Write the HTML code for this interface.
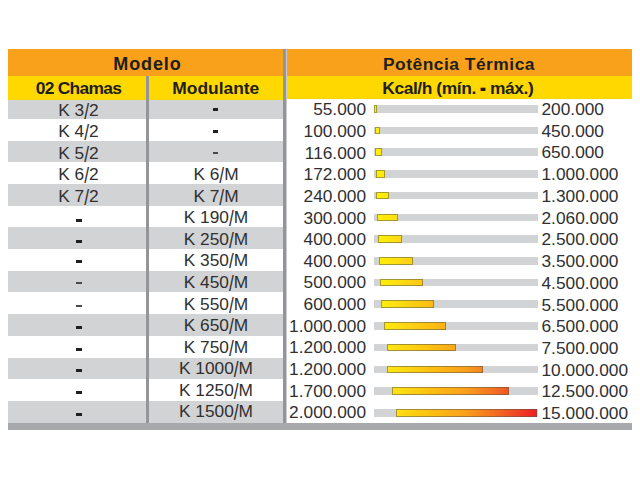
<!DOCTYPE html>
<html><head><meta charset="utf-8"><style>
*{margin:0;padding:0;box-sizing:border-box}
html,body{width:640px;height:480px;background:#fff;overflow:hidden}
body{position:relative;font-family:"Liberation Sans",sans-serif;color:#303030}
.a{position:absolute}
.t{position:absolute;white-space:nowrap;line-height:20px;font-size:17.3px}
.c1{left:9.5px;width:138px;text-align:center}
.c2{left:149px;width:134px;text-align:center}
.mn{left:280px;width:86px;text-align:right}
.mx{left:541.5px;text-align:left}
.g{background:#d1d3d4}
.tr{position:absolute;left:374.00px;width:163.70px;height:7.6px;background:#d1d3d4}
.bar{position:absolute;height:7.6px;border:1px solid rgba(90,88,75,.55);background-image:linear-gradient(to right,#fff200 0%,#ffe014 13%,#fdc010 34%,#f9a01b 56%,#f26522 77%,#ec1c24 100%);background-size:163.70px 100%;background-origin:border-box}
.dash{position:absolute;background:#231f20}
.sl{display:inline-block;transform:translateY(0.7px) scaleY(1.3)}
</style></head><body>

<div class="a" style="left:8px;top:49px;width:624px;height:27px;background:#f9a11b"></div>
<div class="a" style="left:8px;top:76px;width:278px;height:24px;background:#ffd800"></div>
<div class="a" style="left:286px;top:76px;width:346px;height:23px;background:#ffd800"></div>
<div class="a g" style="left:8px;top:100px;width:275px;height:19px"></div>
<div class="a g" style="left:8px;top:141px;width:275px;height:21px"></div>
<div class="a g" style="left:8px;top:184px;width:275px;height:22px"></div>
<div class="a g" style="left:8px;top:227px;width:275px;height:22px"></div>
<div class="a g" style="left:8px;top:271px;width:275px;height:21px"></div>
<div class="a g" style="left:8px;top:314px;width:275px;height:22px"></div>
<div class="a g" style="left:8px;top:358px;width:275px;height:21px"></div>
<div class="a g" style="left:8px;top:401px;width:275px;height:22px"></div>
<div class="a" style="left:8px;top:423px;width:624px;height:7px;background:#a7a9ac"></div>
<div class="a" style="left:146px;top:76px;width:3px;height:347px;background:#939598"></div>
<div class="a" style="left:283px;top:49px;width:3px;height:374px;background:#939598"></div>
<div class="a" style="left:286px;top:49px;width:1px;height:374px;background:#c9cacc"></div>
<div class="t " style="top:53.76px;font-weight:bold;font-size:18.0px;color:#1e1e1e;left:-2.55px;width:300px;text-align:center;letter-spacing:0.9px">Modelo</div>
<div class="t " style="top:53.97px;font-weight:bold;font-size:17.4px;color:#1e1e1e;left:309.00px;width:300px;text-align:center;letter-spacing:0.5px">Potência Térmica</div>
<div class="t " style="top:77.67px;font-weight:bold;font-size:17.4px;color:#1e1e1e;left:9.45px;width:138px;text-align:center;letter-spacing:-0.7px">02 Chamas</div>
<div class="t " style="top:77.67px;font-weight:bold;font-size:17.4px;color:#1e1e1e;left:148.80px;width:134px;text-align:center;">Modulante</div>
<div class="t " style="top:77.67px;font-weight:bold;font-size:17.4px;color:#1e1e1e;left:307.80px;width:300px;text-align:center;letter-spacing:-0.42px">Kcal/h (mín. <span style="display:inline-block;transform:translateY(-0.2px) scale(1.1,1.6)">-</span> máx.)</div>
<div class="t c1" style="top:99.50px">K 3<span class="sl">/</span>2</div>
<div class="dash" style="left:213px;top:108px;width:5px;height:3px"></div>
<div class="t mn" style="top:99.25px">55.000</div>
<div class="t mx" style="top:99.05px">200.000</div>
<div class="tr" style="top:105.00px"></div>
<div class="bar" style="top:105.00px;left:374.00px;width:2.90px;background-position:-0.00px 0"></div>
<div class="t c1" style="top:121.07px">K 4<span class="sl">/</span>2</div>
<div class="dash" style="left:213px;top:130px;width:5px;height:3px"></div>
<div class="t mn" style="top:120.90px">100.000</div>
<div class="t mx" style="top:120.77px">450.000</div>
<div class="tr" style="top:126.71px"></div>
<div class="bar" style="top:126.71px;left:375.00px;width:4.60px;background-position:-1.00px 0"></div>
<div class="t c1" style="top:142.64px">K 5<span class="sl">/</span>2</div>
<div class="dash" style="left:213px;top:152px;width:5px;height:2px;background:#4a4a4a"></div>
<div class="t mn" style="top:142.55px">116.000</div>
<div class="t mx" style="top:142.49px">650.000</div>
<div class="tr" style="top:148.42px"></div>
<div class="bar" style="top:148.42px;left:375.00px;width:6.90px;background-position:-1.00px 0"></div>
<div class="t c1" style="top:164.21px">K 6<span class="sl">/</span>2</div>
<div class="t c2" style="top:164.21px">K 6<span class="sl">/</span>M</div>
<div class="t mn" style="top:164.20px">172.000</div>
<div class="t mx" style="top:164.21px">1.000.000</div>
<div class="tr" style="top:170.13px"></div>
<div class="bar" style="top:170.13px;left:376.00px;width:9.10px;background-position:-2.00px 0"></div>
<div class="t c1" style="top:185.78px">K 7<span class="sl">/</span>2</div>
<div class="t c2" style="top:185.78px">K 7<span class="sl">/</span>M</div>
<div class="t mn" style="top:185.85px">240.000</div>
<div class="t mx" style="top:185.93px">1.300.000</div>
<div class="tr" style="top:191.84px"></div>
<div class="bar" style="top:191.84px;left:376.10px;width:12.50px;background-position:-2.10px 0"></div>
<div class="dash" style="left:76px;top:219px;width:6px;height:3px"></div>
<div class="t c2" style="top:207.35px">K 190<span class="sl">/</span>M</div>
<div class="t mn" style="top:207.50px">300.000</div>
<div class="t mx" style="top:207.65px">2.060.000</div>
<div class="tr" style="top:213.55px"></div>
<div class="bar" style="top:213.55px;left:377.00px;width:21.25px;background-position:-3.00px 0"></div>
<div class="dash" style="left:76px;top:240px;width:6px;height:3px"></div>
<div class="t c2" style="top:228.92px">K 250<span class="sl">/</span>M</div>
<div class="t mn" style="top:229.15px">400.000</div>
<div class="t mx" style="top:229.37px">2.500.000</div>
<div class="tr" style="top:235.26px"></div>
<div class="bar" style="top:235.26px;left:378.30px;width:23.40px;background-position:-4.30px 0"></div>
<div class="dash" style="left:76px;top:260px;width:6px;height:3px"></div>
<div class="t c2" style="top:250.49px">K 350<span class="sl">/</span>M</div>
<div class="t mn" style="top:250.80px">400.000</div>
<div class="t mx" style="top:251.09px">3.500.000</div>
<div class="tr" style="top:256.97px"></div>
<div class="bar" style="top:256.97px;left:378.70px;width:34.10px;background-position:-4.70px 0"></div>
<div class="dash" style="left:76px;top:282px;width:6px;height:2px;background:#4a4a4a"></div>
<div class="t c2" style="top:272.06px">K 450<span class="sl">/</span>M</div>
<div class="t mn" style="top:272.45px">500.000</div>
<div class="t mx" style="top:272.81px">4.500.000</div>
<div class="tr" style="top:278.68px"></div>
<div class="bar" style="top:278.68px;left:379.80px;width:43.50px;background-position:-5.80px 0"></div>
<div class="dash" style="left:76px;top:305px;width:6px;height:2px;background:#4a4a4a"></div>
<div class="t c2" style="top:293.63px">K 550<span class="sl">/</span>M</div>
<div class="t mn" style="top:294.10px">600.000</div>
<div class="t mx" style="top:294.53px">5.500.000</div>
<div class="tr" style="top:300.39px"></div>
<div class="bar" style="top:300.39px;left:381.20px;width:52.80px;background-position:-7.20px 0"></div>
<div class="dash" style="left:76px;top:326px;width:6px;height:3px"></div>
<div class="t c2" style="top:315.20px">K 650<span class="sl">/</span>M</div>
<div class="t mn" style="top:315.75px">1.000.000</div>
<div class="t mx" style="top:316.25px">6.500.000</div>
<div class="tr" style="top:322.10px"></div>
<div class="bar" style="top:322.10px;left:384.30px;width:61.50px;background-position:-10.30px 0"></div>
<div class="dash" style="left:76px;top:348px;width:6px;height:3px"></div>
<div class="t c2" style="top:336.77px">K 750<span class="sl">/</span>M</div>
<div class="t mn" style="top:337.40px">1.200.000</div>
<div class="t mx" style="top:337.97px">7.500.000</div>
<div class="tr" style="top:343.81px"></div>
<div class="bar" style="top:343.81px;left:386.90px;width:69.35px;background-position:-12.90px 0"></div>
<div class="dash" style="left:76px;top:369px;width:6px;height:3px"></div>
<div class="t c2" style="top:358.34px">K 1000<span class="sl">/</span>M</div>
<div class="t mn" style="top:359.05px">1.200.000</div>
<div class="t mx" style="top:359.69px">10.000.000</div>
<div class="tr" style="top:365.52px"></div>
<div class="bar" style="top:365.52px;left:386.90px;width:95.85px;background-position:-12.90px 0"></div>
<div class="dash" style="left:76px;top:391px;width:6px;height:3px"></div>
<div class="t c2" style="top:379.91px">K 1250<span class="sl">/</span>M</div>
<div class="t mn" style="top:380.70px">1.700.000</div>
<div class="t mx" style="top:381.41px">12.500.000</div>
<div class="tr" style="top:387.23px"></div>
<div class="bar" style="top:387.23px;left:392.20px;width:117.10px;background-position:-18.20px 0"></div>
<div class="dash" style="left:76px;top:413px;width:6px;height:3px"></div>
<div class="t c2" style="top:401.48px">K 1500<span class="sl">/</span>M</div>
<div class="t mn" style="top:402.35px">2.000.000</div>
<div class="t mx" style="top:403.13px">15.000.000</div>
<div class="tr" style="top:408.94px"></div>
<div class="bar" style="top:408.94px;left:396.00px;width:141.30px;background-position:-22.00px 0"></div>
</body></html>
